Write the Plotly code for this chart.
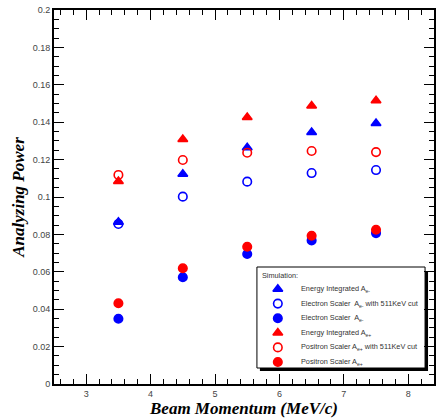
import plotly.graph_objects as go

# ---------------- data ----------------
beam_momentum = [3.5, 4.5, 5.5, 6.5, 7.5]
energy_int_eminus = [0.0866, 0.1123, 0.1264, 0.1346, 0.1394]
electron_scaler_cut = [0.0856, 0.1002, 0.1082, 0.1128, 0.1144]
electron_scaler = [0.0349, 0.0571, 0.0695, 0.0768, 0.0807]
energy_int_eplus = [0.1084, 0.1308, 0.1426, 0.1487, 0.1516]
positron_scaler_cut = [0.1118, 0.1198, 0.1237, 0.1246, 0.1240]
positron_scaler = [0.0432, 0.0619, 0.0734, 0.0793, 0.0825]

legend_title = "Simulation:"
legend_labels = [
    "Energy Integrated A<sub>e-</sub>",
    "Electron Scaler  A<sub>e-</sub> with 511KeV cut",
    "Electron Scaler  A<sub>e-</sub>",
    "Energy Integrated A<sub>e+</sub>",
    "Positron Scaler A<sub>e+</sub> with 511KeV cut",
    "Positron Scaler A<sub>e+</sub>",
]

BLUE = "#0000ff"
RED = "#ff0000"
series = [
    (energy_int_eminus, "triangle-up", BLUE),
    (electron_scaler_cut, "circle-open", BLUE),
    (electron_scaler, "circle", BLUE),
    (energy_int_eplus, "triangle-up", RED),
    (positron_scaler_cut, "circle-open", RED),
    (positron_scaler, "circle", RED),
]

W, H = 438, 419
L, R, T, B = 54, 2, 10, 35
PW, PH = W - L - R, H - T - B


def px(x):
    return (x - L) / PW


def py(y):
    return (H - B - y) / PH


fig = go.Figure()
for (vals, sym, col), name in zip(series, legend_labels):
    fig.add_trace(go.Scatter(
        x=beam_momentum, y=vals, mode="markers", name=name,
        marker=dict(symbol=sym, size=8.5, color=col,
                    line=dict(width=1.6, color=col)),
        showlegend=False,
    ))

# ---- hand-built legend (box with drop shadow) ----
box = (258, 267, 427, 368)
sh = 3
fig.add_shape(type="rect", xref="paper", yref="paper", layer="below",
              x0=px(box[0] + sh), x1=px(box[2] + sh),
              y0=py(box[1] + sh + 2), y1=py(box[3] + sh),
              fillcolor="black", line=dict(width=0))
fig.add_shape(type="rect", xref="paper", yref="paper", layer="below",
              x0=px(box[0]), x1=px(box[2]), y0=py(box[1]), y1=py(box[3]),
              fillcolor="white", line=dict(width=1, color="black"))

legfont = dict(family="Liberation Sans, Arial", size=7.3, color="#333")
fig.add_annotation(xref="paper", yref="paper", x=px(261), y=py(275),
                   xanchor="left", yanchor="middle", showarrow=False,
                   text=legend_title, font=legfont)

key_x = 279
text_x = 300
key_y0 = 289
key_dy = 14.6
for i, ((vals, sym, col), name) in enumerate(zip(series, legend_labels)):
    yy = key_y0 + i * key_dy
    fig.add_trace(go.Scatter(
        x=[px(key_x)], y=[py(yy)], xaxis="x2", yaxis="y2", mode="markers",
        marker=dict(symbol=sym, size=8.5, color=col, line=dict(width=1.6, color=col)),
        showlegend=False, hoverinfo="skip",
    ))
    fig.add_annotation(xref="paper", yref="paper", x=px(text_x), y=py(yy),
                       xanchor="left", yanchor="middle", showarrow=False,
                       text=name, font=legfont)

tickfont = dict(family="Liberation Sans, Arial", size=9, color="#444")
titlefont = dict(family="Liberation Serif, Times New Roman", size=17,
                 color="black", weight="bold", style="italic")

fig.update_layout(
    width=W, height=H,
    margin=dict(l=L, r=R, t=T, b=B),
    paper_bgcolor="white", plot_bgcolor="white",
    showlegend=False,
    xaxis=dict(
        range=[2.5, 8.4], dtick=1, tick0=0,
        showgrid=False, zeroline=False,
        showline=True, linewidth=2, linecolor="black", mirror="allticks",
        ticks="inside", ticklen=10, tickwidth=1.3, tickcolor="black",
        minor=dict(dtick=0.2, ticks="inside", ticklen=5, tickwidth=1, tickcolor="black"),
        tickfont=tickfont,
        title=dict(text="Beam Momentum (MeV/c)", font=titlefont, standoff=0),
    ),
    yaxis=dict(
        range=[0, 0.2], dtick=0.02, tick0=0,
        showgrid=False, zeroline=False,
        showline=True, linewidth=2, linecolor="black", mirror="allticks",
        ticks="inside", ticklen=10, tickwidth=1.3, tickcolor="black",
        minor=dict(dtick=0.005, ticks="inside", ticklen=5, tickwidth=1, tickcolor="black"),
        tickfont=tickfont,
        title=dict(text="Analyzing Power", font=titlefont, standoff=4),
    ),
    xaxis2=dict(range=[0, 1], overlaying="x", visible=False, fixedrange=True),
    yaxis2=dict(range=[0, 1], overlaying="y", visible=False, fixedrange=True),
)

fig.write_html("out.html")
